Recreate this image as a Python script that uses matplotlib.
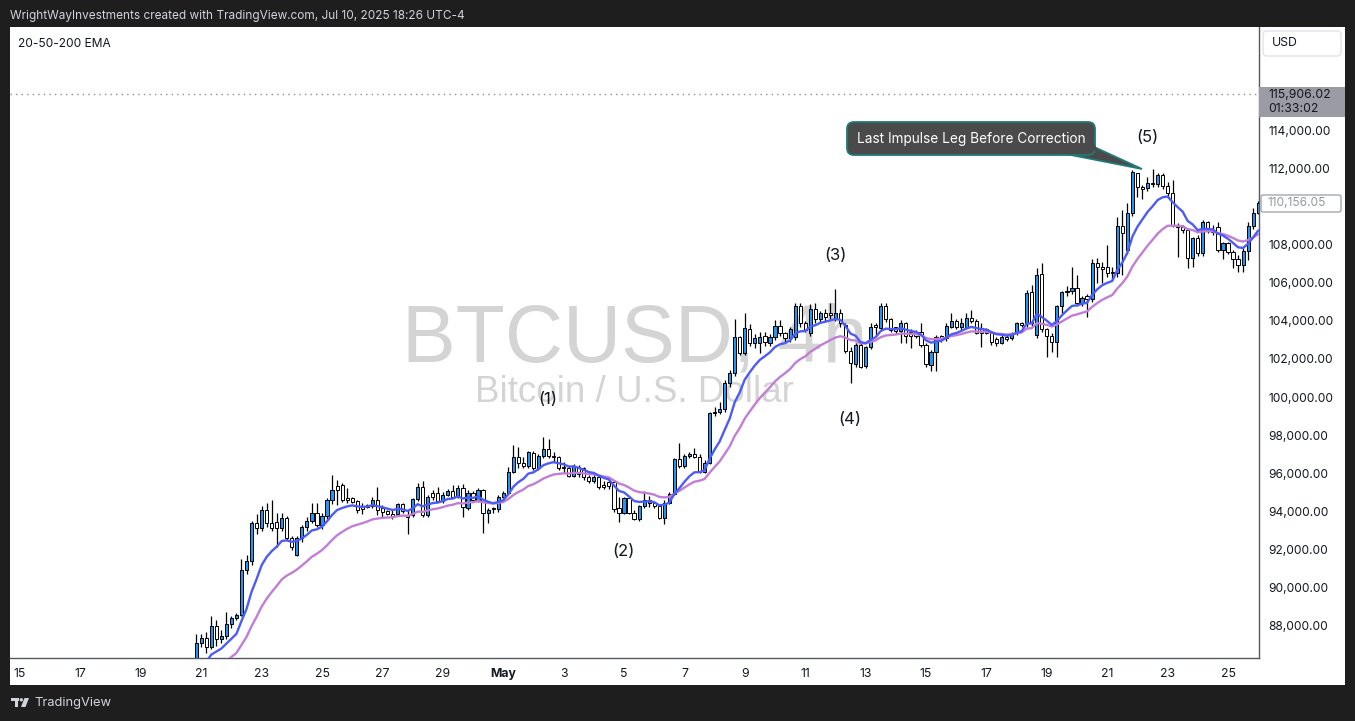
import numpy as np
import pandas as pd
import matplotlib
matplotlib.use("Agg")
import matplotlib.pyplot as plt
from matplotlib.patches import Rectangle, FancyBboxPatch, Polygon, Circle

# ------------------------------------------------------------------ data
first_candle = "2025-04-20 20:00"   # BTCUSD 4h candles (UTC-4)
axis_origin = "2025-04-15 00:00"

opens = [
    85800, 87090, 87360, 86880, 88000, 87300, 87450, 88110, 88400, 88580,
    90940, 91430, 93380, 93120, 94080, 93380, 93470, 93120, 93650, 92600,
    91700, 92600, 93170, 93520, 93940, 93300, 93770, 94610, 95340, 95390,
    94690, 94690, 94550, 94300, 94260, 94290, 94610, 94170, 94050, 93860,
    93860, 94380, 93820, 93820, 94640, 95310, 93820, 94960, 94960, 94570,
    94870, 95100, 94780, 95250, 94170, 94990, 94610, 95130, 93910, 94170,
    94120, 94750, 94990, 96090, 96880, 96560, 96410, 97090, 96300, 96910,
    97260, 96910, 96840, 96350, 96300, 95880, 96350, 96300, 95830, 95620,
    95830, 95390, 95570, 95570, 94170, 93940, 94690, 93940, 93610, 94290,
    94430, 94430, 94290, 93680, 94470, 94920, 96740, 96410, 96910, 97020,
    96880, 96090, 96560, 99150, 99200, 99360, 100720, 101250, 103170, 102330,
    103550, 102820, 102820, 103200, 102850, 103170, 103730, 103340, 103080, 103130,
    104770, 103900, 103340, 104600, 104080, 104430, 104390, 104130, 104390, 103780,
    102430, 101740, 102730, 101630, 102610, 103780, 103600, 104770, 104080, 103660,
    103480, 103870, 103430, 103430, 103430, 102730, 101680, 102380, 103200, 103080,
    103690, 104010, 103660, 103660, 104130, 104010, 103600, 103550, 103380, 103030,
    102850, 103170, 103080, 103340, 103870, 103870, 105490, 103260, 106450, 103550,
    103200, 102910, 104780, 105490, 105560, 105720, 104950, 105300, 105160, 107010,
    106800, 106800, 106580, 106490, 108970, 107710, 109630, 111730, 111000, 110940,
    111240, 111170, 111640, 111070, 110680, 109020, 108930, 108760, 107280, 108320,
    107540, 109160, 108760, 108900, 107710, 108060, 107620, 107220, 106930, 107680,
    108970, 109670]

highs = [
    87580, 87580, 87700, 88530, 88320, 87800, 88750, 88500, 88700, 91500,
    91720, 93500, 93850, 94290, 94430, 94600, 93900, 93900, 93750, 92700,
    92700, 93300, 93700, 94430, 94430, 93900, 94700, 95920, 95650, 95500,
    95220, 94780, 94600, 94430, 94400, 94780, 95300, 94340, 94100, 94080,
    94450, 94450, 94080, 94700, 95520, 95600, 94850, 95130, 95310, 95000,
    95200, 95390, 95390, 95430, 95150, 95100, 95250, 95200, 94200, 94260,
    94850, 95100, 96350, 97490, 97400, 96880, 97200, 97200, 97000, 97890,
    97790, 97140, 96900, 96620, 96400, 96500, 96450, 96350, 95900, 95900,
    95900, 95600, 95650, 95650, 94780, 94780, 94780, 94080, 94350, 95100,
    94820, 94500, 94350, 94610, 95000, 96800, 97610, 97000, 97100, 97310,
    97000, 96700, 99200, 99500, 99760, 100900, 101420, 104080, 103200, 104390,
    103830, 103300, 103430, 103400, 103300, 104040, 104040, 103400, 103700, 104910,
    104910, 104000, 104900, 104910, 104500, 104600, 104910, 105670, 104600, 103900,
    102640, 102850, 102820, 102700, 103870, 103870, 104950, 104950, 104160, 103700,
    104040, 103950, 103550, 103500, 103870, 102820, 102470, 103260, 103260, 103870,
    104430, 104100, 104130, 104390, 104570, 104080, 103870, 103600, 103430, 103170,
    103260, 103260, 103400, 103950, 103950, 105610, 105880, 106750, 107050, 103610,
    103340, 104830, 105580, 105820, 106800, 106400, 105300, 105400, 107260, 107280,
    107100, 107970, 106840, 109460, 109810, 110160, 111900, 111760, 111100, 111560,
    111940, 111730, 111730, 111290, 111380, 109110, 109000, 108850, 108400, 108500,
    109300, 109250, 109000, 109200, 108150, 108150, 107710, 107450, 107800, 109200,
    109900, 110300]

lows = [
    85600, 86900, 86600, 86800, 86950, 87100, 87300, 87900, 88300, 88500,
    90700, 91200, 92800, 93000, 93200, 93000, 92160, 93000, 92500, 92000,
    91650, 92400, 93000, 93400, 93200, 93100, 93600, 94400, 94340, 94500,
    94430, 94430, 93900, 93870, 94200, 94200, 93820, 93730, 93800, 93610,
    93780, 93900, 92810, 93730, 94550, 93730, 93700, 94600, 94500, 94450,
    94800, 94700, 94700, 93730, 94100, 94500, 94500, 92860, 93400, 93940,
    94000, 94700, 94900, 96000, 96300, 96300, 96300, 96200, 96200, 96800,
    96800, 96620, 96200, 96000, 95800, 95800, 95800, 95650, 95500, 95500,
    95200, 95200, 95200, 94000, 93470, 93850, 93850, 93560, 93500, 94200,
    94220, 94200, 93600, 93330, 94400, 94850, 96300, 96300, 96800, 96800,
    96000, 96000, 96500, 99000, 99100, 99200, 100550, 101100, 102200, 102200,
    102700, 102600, 102290, 102700, 102700, 103000, 103200, 102900, 102900, 103000,
    103700, 103400, 103200, 103900, 103950, 104000, 104100, 104000, 103700, 102300,
    100720, 101600, 101500, 101500, 102500, 103260, 103500, 103950, 103400, 103300,
    102850, 102850, 102560, 103100, 102640, 101600, 101390, 101390, 102900, 102950,
    103600, 103550, 103500, 103550, 103900, 103300, 102640, 103300, 102730, 102680,
    102780, 102950, 103000, 103250, 103700, 103700, 103700, 103100, 103400, 102090,
    102380, 102120, 104430, 105300, 105400, 104800, 104800, 104220, 105000, 105960,
    106000, 106300, 106140, 106300, 106400, 107500, 109500, 110470, 110400, 110800,
    111000, 111000, 110900, 110500, 108900, 107330, 108600, 106750, 106840, 107400,
    107400, 108600, 108500, 107600, 107220, 107500, 106750, 106580, 106580, 107190,
    108800, 109600]

closes = [
    87090, 87360, 86880, 88000, 87300, 87450, 88110, 88400, 88580, 90940,
    91430, 93380, 93120, 94080, 93380, 93120, 93120, 93650, 92600, 92130,
    92600, 93170, 93520, 93940, 93300, 93770, 94610, 95130, 95130, 94610,
    94610, 94520, 94080, 94120, 94350, 94610, 94080, 94000, 93860, 93790,
    94380, 94030, 93700, 94640, 95310, 93820, 94750, 94750, 94570, 94870,
    95100, 94780, 95250, 94220, 94990, 94610, 95130, 93910, 94080, 94120,
    94750, 94990, 96090, 96880, 96530, 96410, 97100, 96300, 96910, 97260,
    96910, 96840, 96300, 96270, 95880, 96410, 95970, 95790, 95600, 95830,
    95310, 95310, 95340, 94120, 93940, 94690, 93940, 93610, 94290, 94610,
    94610, 94290, 93680, 94470, 94920, 96740, 96410, 96910, 97020, 96880,
    96090, 96560, 99150, 99200, 99360, 100720, 101250, 103170, 102330, 103600,
    102850, 103080, 103130, 102900, 103170, 103730, 103340, 103080, 103550, 104770,
    103900, 103520, 104600, 104080, 104390, 104180, 104300, 104390, 103870, 102430,
    101770, 102730, 101560, 102610, 103690, 103690, 104770, 104080, 103520, 103480,
    103870, 103200, 103200, 103220, 102730, 101740, 102380, 103170, 103080, 103730,
    104010, 103660, 103870, 104130, 104010, 103380, 103380, 103380, 102910, 102850,
    103170, 103030, 103340, 103870, 103780, 105470, 103870, 106400, 103550, 103200,
    102910, 104780, 105510, 105560, 105720, 104950, 105200, 105160, 107010, 106800,
    106730, 106490, 106490, 108970, 108590, 109630, 111790, 111000, 110890, 111240,
    111170, 111640, 111070, 110680, 109020, 108930, 108760, 107280, 108320, 107540,
    109160, 108760, 108670, 107710, 108060, 107620, 107220, 106930, 107680, 108970,
    109670, 110156.05]

ema_fast_span, ema_fast_seed = 9, 85200     # blue EMA, value just before first bar
ema_slow_span, ema_slow_seed = 20, 84800    # purple EMA

day_tick_labels = ["15", "17", "19", "21", "23", "25", "27", "29", "May", "3", "5",
                   "7", "9", "11", "13", "15", "17", "19", "21", "23", "25"]
# 110,000 is hidden behind the last-price label in the reference
price_ticks = [88000, 90000, 92000, 94000, 96000, 98000, 100000, 102000,
               104000, 106000, 108000, 112000, 114000]
high_line_price = 115906.02
countdown = "01:33:02"
last_price = closes[-1]

wave_labels = ["(1)", "(2)", "(3)", "(4)", "(5)"]
callout_text = "Last Impulse Leg Before Correction"
symbol_text = "BTCUSD, 4h"
desc_text = "Bitcoin / U.S. Dollar"
header_text = "WrightWayInvestments created with TradingView.com, Jul 10, 2025 18:26 UTC-4"
indicator_text = "20-50-200 EMA"

assert len(opens) == len(highs) == len(lows) == len(closes), (len(opens), len(highs), len(lows), len(closes))

# ------------------------------------------------------------------ helpers
W, H = 1355, 721
UI = ["Inter", "DejaVu Sans"]
TXT = "#131722"

def ema(values, span, seed):
    a = 2.0 / (span + 1)
    out, e = [], seed
    for v in values:
        e = e + a * (v - e)
        out.append(e)
    return np.array(out)

o = np.array(opens, float); h = np.array(highs, float)
l = np.array(lows, float); c = np.array(closes, float)
times = pd.date_range(first_candle, periods=len(c), freq="4h")
x = (times - pd.Timestamp(axis_origin)).total_seconds().values / 86400.0

# pixel geometry of the plotting pane
PL, PR, PT, PB = 10, 1259, 27, 658
px_per_day = 30.2
x_at_origin = 20.0
y_ref_px, y_ref_price, px_per_2000 = 626.0, 88000.0, 38.15

def px2day(px):
    return (px - x_at_origin) / px_per_day

def py2price(py):
    return y_ref_price + (y_ref_px - py) * 2000.0 / px_per_2000

# ------------------------------------------------------------------ figure
fig = plt.figure(figsize=(W / 100, H / 100), dpi=100)
fig.patch.set_facecolor("#1e1e1e")
panel = Rectangle((10 / W, 1 - 685 / H), 1335 / W, 658 / H,
                  transform=fig.transFigure, facecolor="white",
                  edgecolor="none", zorder=-5)
fig.add_artist(panel)

ax = fig.add_axes([PL / W, 1 - PB / H, (PR - PL) / W, (PB - PT) / H], zorder=1)
ax.set_facecolor("white")
ax.set_xlim(px2day(PL), px2day(PR))
ax.set_ylim(py2price(PB), py2price(PT))
for s in ("left", "top"):
    ax.spines[s].set_visible(False)
for s in ("right", "bottom"):
    ax.spines[s].set_color("#555862")
    ax.spines[s].set_linewidth(1.0)

# watermark
ax.text(0.5, (PB - 362) / (PB - PT), symbol_text, transform=ax.transAxes,
        ha="center", va="baseline", fontsize=58, color="#d4d4d4",
        family=["Liberation Sans", "DejaVu Sans"], zorder=1)
ax.text(0.5, (PB - 402) / (PB - PT), desc_text, transform=ax.transAxes,
        ha="center", va="baseline", fontsize=26.5, color="#d4d4d4",
        family=["Liberation Sans", "DejaVu Sans"], zorder=1)

# dotted high line
ax.axhline(high_line_price, color="#8a8d96", lw=1.0, linestyle=(0, (1, 3)), zorder=2)

# candles
up = c >= o
ax.vlines(x, l, h, color="black", lw=0.9, zorder=3)
body_lo = np.minimum(o, c)
body_h = np.maximum(np.abs(c - o), 30)
ax.bar(x, body_h, bottom=body_lo, width=0.105,
       color=np.where(up, "#2196f3", "#ffffff"), edgecolor="black",
       linewidth=0.7, zorder=4, align="center")

# moving averages
ax.plot(x, ema(c, ema_slow_span, ema_slow_seed), color="#c27ed6", lw=1.7, zorder=5,
        solid_capstyle="round")
ax.plot(x, ema(c, ema_fast_span, ema_fast_seed), color="#4d5cf6", lw=1.7, zorder=6,
        solid_capstyle="round")

# axes ticks
tick_days = np.arange(0, 2 * len(day_tick_labels), 2)
ax.set_xticks(tick_days)
ax.set_xticklabels(day_tick_labels)
ax.tick_params(axis="x", length=0, pad=7.5, labelsize=8.8, labelcolor=TXT)
for lab in ax.get_xticklabels():
    lab.set_family(UI)
    if lab.get_text() == "May":
        lab.set_fontweight("bold")

ax.yaxis.tick_right()
ax.set_yticks(price_ticks)
ax.set_yticklabels([f"{p:,.2f}" for p in price_ticks])
ax.tick_params(axis="y", length=0, pad=6.5, labelsize=8.6, labelcolor=TXT)
for lab in ax.get_yticklabels():
    lab.set_family(UI)

# ------------------------------------------------------------------ overlay (pixel space)
ov = fig.add_axes([0, 0, 1, 1], zorder=10)
ov.set_xlim(0, W); ov.set_ylim(H, 0); ov.axis("off")
ov.patch.set_visible(False)

ov.text(10, 16, header_text, fontsize=8.5, color="#d1d4dc", va="center", ha="left", family=UI)
ov.text(18, 44, indicator_text, fontsize=8.6, color=TXT, va="center", ha="left", family=UI)

# USD box
ov.add_patch(FancyBboxPatch((1263, 31), 78, 25, boxstyle="round,pad=0,rounding_size=4",
                            facecolor="white", edgecolor="#e0e3eb", lw=1))
ov.text(1272, 43.5, "USD", fontsize=8.8, color=TXT, va="center", ha="left", family=UI)

# current-high label
ov.add_patch(Rectangle((1259, 87), 86, 30, facecolor="#9b9ca3", edgecolor="none"))
ov.text(1268, 95, f"{high_line_price:,.2f}", fontsize=8.8, color=TXT, va="center", family=UI)
ov.text(1268, 109, countdown, fontsize=8.8, color=TXT, va="center", family=UI)

# last price label
ov.add_patch(FancyBboxPatch((1261, 195), 80, 17, boxstyle="round,pad=0,rounding_size=2",
                            facecolor="white", edgecolor="#a3a6af", lw=1))
ov.text(1268, 203.5, f"{last_price:,.2f}", fontsize=8.6, color="#9598a1", va="center", family=UI)

# wave labels (pixel positions)
wave_pos = [(548, 399), (623, 552), (835, 255), (850, 419), (1147, 137)]
for t, (px, py) in zip(wave_labels, wave_pos):
    ov.text(px, py, t, fontsize=12, color=TXT, ha="center", va="center", family=UI)

# callout
box_fc, box_ec = "#4a4a4a", "#1f7a78"
ov.add_patch(Polygon([(1066, 154), (1092, 146), (1142, 169)], closed=True,
                     facecolor=box_fc, edgecolor=box_ec, lw=1.3, joinstyle="miter"))
ov.add_patch(FancyBboxPatch((847, 122), 248, 33, boxstyle="round,pad=0,rounding_size=7",
                            facecolor=box_fc, edgecolor=box_ec, lw=1.3))
ov.add_patch(Polygon([(1064, 153), (1094, 144), (1098, 150)], closed=True,
                     facecolor=box_fc, edgecolor="none"))
ov.text(971, 138.5, callout_text, fontsize=9.8, color="white", ha="center", va="center", family=UI)

# bottom brand
ov.add_patch(Rectangle((11, 698), 8, 3.2, facecolor="#d1d4dc", edgecolor="none"))
ov.add_patch(Rectangle((14.5, 698), 3.6, 9, facecolor="#d1d4dc", edgecolor="none"))
ov.add_patch(Circle((21.3, 699.8), 1.7, facecolor="#d1d4dc", edgecolor="none"))
ov.add_patch(Polygon([(24.5, 698), (29, 698), (25.5, 707), (21, 707)], closed=True,
                     facecolor="#d1d4dc", edgecolor="none"))
ov.text(34, 703, "TradingView", fontsize=9.3, color="#d1d4dc", va="center", ha="left", family=UI)

fig.savefig("out.png", dpi=100, facecolor=fig.get_facecolor())
